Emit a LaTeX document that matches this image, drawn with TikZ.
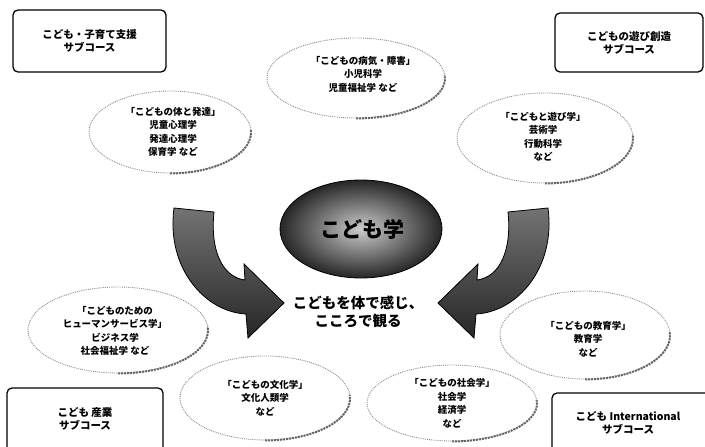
\documentclass[tikz,border=0pt]{standalone}
\usepackage{fontspec}
\setmainfont{Noto Sans CJK JP}
\usetikzlibrary{shapes.geometric}
\begin{document}
\begin{tikzpicture}[x=1pt,y=-1pt,
  course/.style={draw=black,line width=1.3pt,rounded corners=5pt,fill=white},
  field/.style={ellipse,draw=black!45,densely dotted,line width=0.9pt,inner sep=0pt},
  shadowarc/.style={draw=black!60,densely dotted,line width=2pt},
  fieldtxt/.style={align=center,font=\fontsize{9.5}{13.5}\selectfont\bfseries},
  coursetxt/.style={align=center,font=\fontsize{10.5}{12.5}\selectfont\bfseries},
  ribbon/.style={draw=black,line width=0.8pt,top color=black!55,bottom color=black!85}]
\useasboundingbox (0,0) rectangle (705,447);
% sub-course boxes
\draw[course] (13,10) rectangle (166,72);
\node[coursetxt] (c1) at (89.5,41) {こども・子育て支援\\サブコース};
\draw[course] (555,13) rectangle (703,72);
\node[coursetxt] (c2) at (629,43) {こどもの遊び創造\\サブコース};
\draw[course] (7,388) rectangle (163,452);
\node[coursetxt] (c3) at (85,419) {こども 産業\\サブコース};
\draw[course] (552,393) rectangle (710,452);
\node[coursetxt] (c4) at (628,423) {こども International\\サブコース};
% field ellipses
\node[field,minimum width=178pt,minimum height=80pt] (e1) at (356,78) {};
\draw[shadowarc] (e1.south) arc[start angle=90,end angle=-5,x radius=89,y radius=40];
\node[fieldtxt] (t1) at (363,74) {「こどもの病気・障害」\\小児科学\\児童福祉学 など};
\node[field,minimum width=162pt,minimum height=82pt] (e2) at (170,132) {};
\draw[shadowarc] (e2.south) arc[start angle=90,end angle=-5,x radius=81,y radius=41];
\node[fieldtxt] (t2) at (173,132) {「こどもの体と発達」\\児童心理学\\発達心理学\\保育学 など};
\node[field,minimum width=176pt,minimum height=90pt] (e3) at (545,138) {};
\draw[shadowarc] (e3.south) arc[start angle=90,end angle=-5,x radius=88,y radius=45];
\node[fieldtxt] (t3) at (543,137) {「こどもと遊び学」\\芸術学\\行動科学\\など};
\node[field,minimum width=180pt,minimum height=86pt] (e4) at (118,330) {};
\draw[shadowarc] (e4.south) arc[start angle=90,end angle=-5,x radius=90,y radius=43];
\node[fieldtxt] (t4) at (115,331) {「こどものための\\ヒューマンサービス学」\\ビジネス学\\社会福祉学 など};
\node[field,minimum width=170pt,minimum height=88pt] (e5) at (585,335) {};
\draw[shadowarc] (e5.south) arc[start angle=90,end angle=-5,x radius=85,y radius=44];
\node[fieldtxt] (t5) at (588,339) {「こどもの教育学」\\教育学\\など};
\node[field,minimum width=170pt,minimum height=84pt] (e6) at (265,398) {};
\draw[shadowarc] (e6.south) arc[start angle=90,end angle=-5,x radius=85,y radius=42];
\node[fieldtxt] (t6) at (265,398) {「こどもの文化学」\\文化人類学\\など};
\node[field,minimum width=170pt,minimum height=76pt] (e7) at (452,403) {};
\draw[shadowarc] (e7.south) arc[start angle=90,end angle=-5,x radius=85,y radius=38];
\node[fieldtxt] (t7) at (452,403) {「こどもの社会学」\\社会学\\経済学\\など};
% arrows
\draw[ribbon] (174,208) .. controls (166,268) and (205,312) .. (246,314)
  -- (248,338) -- (284,303) -- (244,264) -- (245,280)
  .. controls (222,277) and (210,250) .. (214,212) -- cycle;
\draw[ribbon] (548,208) .. controls (556,268) and (517,312) .. (476,314)
  -- (474,338) -- (438,303) -- (478,264) -- (477,280)
  .. controls (500,277) and (512,250) .. (508,212) -- cycle;
% centre
\node[ellipse,minimum width=162pt,minimum height=98pt,draw=black,line width=0.8pt,
  inner color=black!20,outer color=black!85] (core) at (361,229) {};
\node[font=\fontsize{21}{24}\selectfont\bfseries] (coretxt) at (362,229) {こども学};
\node[align=center,font=\fontsize{14.5}{18}\selectfont\bfseries] (motto) at (358,312)
  {こどもを体で感じ、\\こころで観る};
\end{tikzpicture}
\end{document}
